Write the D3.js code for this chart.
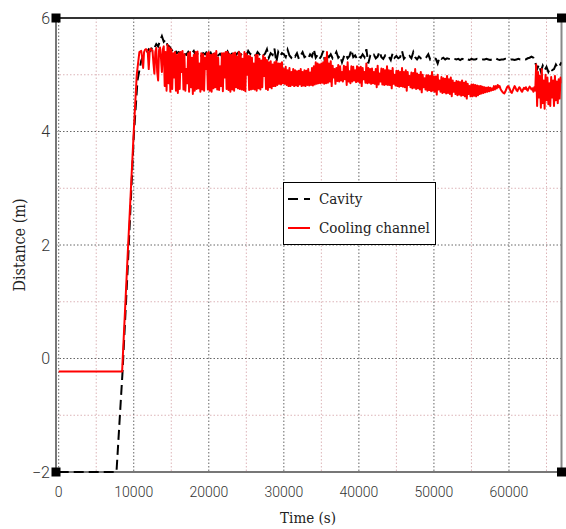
<!DOCTYPE html>
<html>
<head>
<meta charset="utf-8">
<script src="https://cdn.jsdelivr.net/npm/d3@7"></script>
<style>
  html, body { margin: 0; padding: 0; background: #fff; }
  svg { display: block; }
</style>
</head>
<body>
<svg id="chart" width="566" height="529"></svg>
<script>
// Start-up phase of each series: [time (s), distance (m)]
const cavityLead = [[0, -2], [7700, -2], [8500, -0.25], [9200, 1.6], [10000, 3.9], [10500, 4.9]];
const coolingLead = [[0, -0.23], [8450, -0.23], [9200, 1.85], [10000, 4.0], [10400, 5.0], [10750, 5.4]];

// Cavity log: one sample every 250 s from 11000 s
const cavityStart = 11000, cavityStep = 250;
const cavity = [
  5.25, 5.33, 5.36, 5.40, 5.45, 5.42, 5.50, 5.47, 5.54, 5.50, 5.60, 5.68,
  5.58, 5.62, 5.52, 5.50, 5.45, 5.40, 5.44, 5.38, 5.40, 5.36, 5.42, 5.37,
  5.35, 5.40, 5.33, 5.38, 5.42, 5.34, 5.37, 5.40, 5.33, 5.38, 5.36, 5.41,
  5.35, 5.39, 5.32, 5.38, 5.40, 5.34, 5.37, 5.33, 5.38, 5.35, 5.41, 5.34,
  5.36, 5.39, 5.33, 5.37, 5.40, 5.35, 5.38, 5.36, 5.34, 5.42, 5.37, 5.35,
  5.38, 5.33, 5.40, 5.36, 5.39, 5.34, 5.37, 5.45, 5.30, 5.38, 5.35, 5.46,
  5.22, 5.40, 5.33, 5.38, 5.36, 5.31, 5.44, 5.34, 5.30, 5.35, 5.32, 5.38,
  5.28, 5.34, 5.40, 5.31, 5.33, 5.29, 5.36, 5.32, 5.45, 5.30, 5.35, 5.28,
  5.33, 5.42, 5.20, 5.34, 5.31, 5.36, 5.29, 5.33, 5.40, 5.30, 5.34, 5.22,
  5.32, 5.37, 5.29, 5.33, 5.44, 5.31, 5.34, 5.28, 5.33, 5.30, 5.36, 5.31,
  5.45, 5.20, 5.33, 5.30, 5.35, 5.29, 5.32, 5.41, 5.31, 5.28, 5.34, 5.30,
  5.32, 5.26, 5.38, 5.30, 5.33, 5.29, 5.31, 5.42, 5.28, 5.32, 5.30, 5.33,
  5.29, 5.40, 5.31, 5.27, 5.32, 5.29, 5.30, 5.28, 5.31, 5.36, 5.27, 5.30,
  5.29, 5.28, 5.20, 5.31, 5.28, 5.30, 5.27, 5.29, 5.28, 5.27, 5.29, 5.28,
  5.27, 5.28, 5.26, 5.28, 5.27, 5.29, 5.27, 5.26, 5.28, 5.27, 5.27, 5.28,
  5.27, 5.26, 5.27, 5.27, 5.28, 5.27, 5.26, 5.27, 5.27, 5.29, 5.27, 5.26,
  5.27, 5.27, 5.28, 5.27, 5.26, 5.27, 5.27, 5.26, 5.27, 5.28, 5.27, 5.27,
  5.28, 5.27, 5.29, 5.30, 5.32, 5.30, 5.22, 5.10, 5.18, 5.06, 5.16, 5.08,
  5.14, 5.05, 5.12, 5.08, 5.10, 5.18, 5.12, 5.16, 5.22
];

// Cooling channel log: one sample every 125 s from 11000 s to 67000 s
const coolingStart = 11000, coolingStep = 125;
const cooling = [
  5.42, 5.30, 5.12, 5.40, 5.44, 5.45, 5.44, 5.38,
  5.10, 5.42, 5.46, 5.44, 5.43, 5.20, 5.02, 5.40,
  5.47, 5.05, 4.90, 5.44, 5.48, 5.30, 5.05, 5.45,
  5.50, 4.80, 5.40, 4.72, 5.53, 4.85, 5.48, 4.70,
  5.45, 4.75, 5.38, 4.95, 5.40, 4.72, 5.35, 4.68,
  5.38, 4.75, 5.40, 5.05, 5.42, 4.74, 5.36, 4.72,
  5.10, 4.85, 5.38, 4.70, 5.40, 4.78, 5.30, 4.66,
  5.35, 4.72, 5.40, 4.75, 5.41, 4.76, 5.20, 4.70,
  5.38, 4.74, 5.36, 4.72, 5.30, 5.10, 5.38, 4.74,
  5.40, 4.72, 5.35, 4.70, 5.36, 4.76, 5.38, 4.78,
  5.42, 4.74, 5.30, 4.73, 5.15, 4.80, 5.38, 4.71,
  5.38, 4.95, 5.40, 4.75, 5.40, 4.73, 5.36, 4.70,
  5.35, 4.74, 5.38, 4.72, 5.39, 4.78, 5.32, 4.76,
  5.40, 4.75, 5.37, 4.74, 5.28, 4.73, 5.40, 4.71,
  5.37, 5.00, 5.33, 4.73, 5.33, 4.74, 5.30, 4.75,
  5.20, 4.74, 5.35, 4.72, 5.35, 4.76, 5.28, 4.74,
  5.25, 4.78, 5.34, 4.98, 5.30, 4.75, 5.26, 4.73,
  5.22, 4.78, 5.24, 4.76, 5.18, 4.80, 5.22, 4.80,
  5.24, 4.82, 5.20, 4.84, 5.20, 4.83, 5.22, 4.85,
  5.10, 4.84, 5.14, 4.82, 5.08, 4.80, 5.12, 4.80,
  5.05, 4.82, 5.10, 4.80, 5.08, 4.81, 5.06, 4.80,
  5.07, 4.83, 5.10, 4.80, 5.05, 4.81, 5.08, 4.80,
  5.07, 4.82, 5.10, 4.81, 5.04, 4.82, 5.12, 4.81,
  5.15, 4.83, 5.22, 4.84, 5.20, 4.85, 5.18, 4.85,
  5.20,
  4.86, 5.22, 4.84, 5.30, 4.85, 5.40, 4.86, 5.20,
  4.88, 5.24, 4.80, 5.16, 4.95, 5.10, 4.84, 5.12,
  4.89, 5.17, 4.88, 5.15, 4.90, 5.05, 4.88, 5.16,
  4.92, 5.14, 4.82, 5.22, 4.88, 5.06, 4.85, 5.15,
  4.88, 5.14, 4.90, 5.08, 4.87, 5.15, 4.88, 5.13,
  4.86, 5.14, 4.80, 5.12, 4.92, 5.05, 4.86, 5.20,
  4.85, 5.12, 4.86, 5.10, 4.84, 5.11, 4.85, 5.05,
  4.84, 5.10, 4.78, 5.16, 4.83, 5.02, 4.88, 5.11,
  4.83, 5.10, 4.82, 5.08, 4.83, 5.15, 4.82, 5.08,
  4.82, 5.07, 4.76, 5.12, 4.84, 5.00, 4.81, 5.07,
  4.80, 5.07, 4.79, 5.05, 4.80, 5.12, 4.79, 5.05,
  4.78, 5.08, 4.72, 5.05, 4.82, 4.98, 4.78, 5.04,
  4.76, 5.03, 4.77, 5.10, 4.75, 5.02, 4.76, 5.00,
  4.74, 5.05, 4.69, 5.00, 4.78, 4.94, 4.74, 4.99,
  4.72, 4.99, 4.73, 4.98, 4.71, 5.05, 4.72, 4.97,
  4.70, 4.97, 4.65, 5.00, 4.74, 4.90, 4.70, 4.96,
  4.68, 4.94, 4.69, 4.93, 4.67, 4.98, 4.68, 4.92,
  4.66, 4.95, 4.62, 4.90, 4.70, 4.86, 4.66, 4.89,
  4.64, 4.88, 4.65, 4.87, 4.63, 4.90, 4.64, 4.86,
  4.62, 4.88, 4.58, 4.84, 4.66, 4.80, 4.62, 4.83,
  4.62, 4.83, 4.63, 4.82, 4.62, 4.81, 4.64, 4.80,
  4.66, 4.80, 4.67, 4.79, 4.68, 4.78, 4.69, 4.77,
  4.70, 4.78, 4.71, 4.77, 4.72, 4.76, 4.73, 4.80,
  4.74, 4.80, 4.76, 4.82, 4.78, 4.80, 4.75, 4.72,
  4.70, 4.68, 4.67, 4.70, 4.74, 4.78, 4.80, 4.78,
  4.74, 4.70, 4.68, 4.72, 4.76, 4.80, 4.77, 4.73,
  4.71, 4.75, 4.78, 4.76, 4.72, 4.70, 4.74, 4.77,
  4.75, 4.78, 4.74, 4.72, 4.76, 4.79, 4.77, 4.74,
  4.76, 4.70, 4.78, 4.72, 5.18, 4.45, 5.05, 4.60,
  4.98, 4.42, 5.10, 4.50, 4.90, 4.40, 5.00, 4.55,
  4.95, 4.48, 4.85, 4.45, 4.96, 4.60, 4.90, 4.45,
  4.98, 4.55, 4.88, 4.50, 4.92, 4.58, 4.95, 4.85
];

const xTicks = [0, 10000, 20000, 30000, 40000, 50000, 60000];
const xMinor = [5000, 15000, 25000, 35000, 45000, 55000, 65000];
const yTicks = [-2, 0, 2, 4, 6];
const yMinor = [-1, 1, 3, 5];

const seriesNames = ["Cavity", "Cooling channel"];

const svg = d3.select("#chart");
const plotLeft = 56, plotRight = 561.5, plotTop = 18, plotBottom = 472;

const x = d3.scaleLinear().domain([-360, 67000]).range([plotLeft, plotRight]);
const y = d3.scaleLinear().domain([-2, 6]).range([plotBottom, plotTop]);

const sampled = (vals, start, step) => vals.map((v, i) => [start + i * step, v]);

const cavityPts = cavityLead.concat(sampled(cavity, cavityStart, cavityStep));
const coolingPts = coolingLead.concat(sampled(cooling, coolingStart, coolingStep));

// Grid: pink dotted minor lines, grey dotted major lines
const grid = svg.append("g");
function vLines(vals, color) {
  grid.append("g").selectAll("line").data(vals).join("line")
    .attr("x1", d => x(d)).attr("x2", d => x(d))
    .attr("y1", plotTop).attr("y2", plotBottom)
    .attr("stroke", color).attr("stroke-width", 1).attr("stroke-dasharray", "1.5,2");
}
function hLines(vals, color) {
  grid.append("g").selectAll("line").data(vals).join("line")
    .attr("x1", plotLeft).attr("x2", plotRight)
    .attr("y1", d => y(d)).attr("y2", d => y(d))
    .attr("stroke", color).attr("stroke-width", 1).attr("stroke-dasharray", "1.5,2");
}
vLines(xMinor, "#dcb4b8");
hLines(yMinor, "#dcb4b8");
vLines(xTicks, "#666");
hLines(yTicks, "#666");

// Frame
svg.append("line").attr("x1", plotLeft).attr("x2", plotLeft).attr("y1", plotTop).attr("y2", plotBottom)
  .attr("stroke", "#777").attr("stroke-width", 2);
svg.append("line").attr("x1", plotLeft).attr("x2", plotRight).attr("y1", plotBottom).attr("y2", plotBottom)
  .attr("stroke", "#777").attr("stroke-width", 2);
svg.append("line").attr("x1", plotRight).attr("x2", plotRight).attr("y1", plotTop).attr("y2", plotBottom)
  .attr("stroke", "#888").attr("stroke-width", 2);
svg.append("line").attr("x1", plotLeft).attr("x2", plotRight).attr("y1", plotTop).attr("y2", plotTop)
  .attr("stroke", "#333").attr("stroke-width", 2);

// Series
svg.append("clipPath").attr("id", "plotClip")
  .append("rect").attr("x", plotLeft).attr("y", plotTop - 2)
  .attr("width", plotRight - plotLeft).attr("height", plotBottom - plotTop + 4);

const line = d3.line().x(d => x(d[0])).y(d => y(d[1]));
const plot = svg.append("g").attr("clip-path", "url(#plotClip)");
plot.append("path").datum(cavityPts)
  .attr("d", line).attr("fill", "none")
  .attr("stroke", "#000").attr("stroke-width", 2)
  .attr("stroke-dasharray", "10,5");
plot.append("path").datum(coolingPts)
  .attr("d", line).attr("fill", "none")
  .attr("stroke", "#ff0000").attr("stroke-width", 2)
  .attr("stroke-linejoin", "round");

// Corner markers
[[plotLeft, plotTop], [plotRight, plotTop], [plotLeft, plotBottom], [plotRight, plotBottom]].forEach(([cx, cy]) => {
  svg.append("rect").attr("x", cx - 4.5).attr("y", cy - 4.5)
    .attr("width", 9).attr("height", 9).attr("fill", "#000");
});

// Tick labels
const tickFont = "Roboto, 'Noto Sans', sans-serif";
svg.append("g").selectAll("text").data(xTicks).join("text")
  .attr("x", d => x(d)).attr("y", 497)
  .attr("text-anchor", "middle")
  .attr("font-family", tickFont).attr("font-weight", 300)
  .attr("font-size", 14).attr("fill", "#333")
  .text(d => d);
svg.append("g").selectAll("text").data(yTicks).join("text")
  .attr("x", 50).attr("y", d => y(d))
  .attr("dy", "0.36em")
  .attr("text-anchor", "end")
  .attr("font-family", tickFont).attr("font-weight", 300)
  .attr("font-size", 16).attr("fill", "#333")
  .text(d => d < 0 ? "\u2212" + Math.abs(d) : d);

// Axis titles
const titleFont = "'DejaVu Serif Condensed', 'DejaVu Serif', serif";
svg.append("text")
  .attr("x", 308).attr("y", 523)
  .attr("text-anchor", "middle")
  .attr("font-family", titleFont).attr("font-size", 15).attr("fill", "#222")
  .text("Time (s)");
svg.append("text")
  .attr("transform", "translate(25,245) rotate(-90)")
  .attr("text-anchor", "middle")
  .attr("font-family", titleFont).attr("font-size", 16).attr("fill", "#222")
  .text("Distance (m)");

// Legend
const legend = svg.append("g");
legend.append("rect").attr("x", 283.5).attr("y", 182.5)
  .attr("width", 152).attr("height", 62)
  .attr("fill", "#fff").attr("stroke", "#000").attr("stroke-width", 1);
const legendRows = [
  { name: seriesNames[0], color: "#000", dash: "10,6", yy: 199 },
  { name: seriesNames[1], color: "#ff0000", dash: null, yy: 228 }
];
legendRows.forEach(r => {
  legend.append("line").attr("x1", 288).attr("x2", 310)
    .attr("y1", r.yy).attr("y2", r.yy)
    .attr("stroke", r.color).attr("stroke-width", 2)
    .attr("stroke-dasharray", r.dash);
  legend.append("text").attr("x", 319).attr("y", r.yy).attr("dy", "0.35em")
    .attr("font-family", titleFont).attr("font-size", 15).attr("fill", "#222")
    .text(r.name);
});
</script>
</body>
</html>
